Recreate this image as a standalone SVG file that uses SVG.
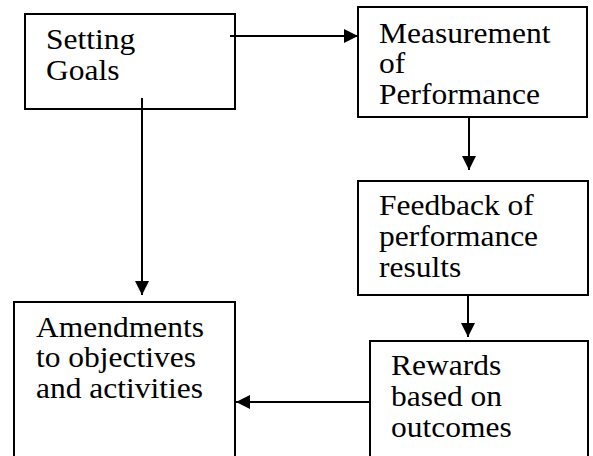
<svg xmlns="http://www.w3.org/2000/svg" width="593" height="456" viewBox="0 0 593 456">
<style>
.box{fill:#fff;stroke:#000;stroke-width:2}
.lbl{font-family:"Liberation Serif","Times New Roman",serif;font-size:30px;fill:#000}
.con{stroke:#000;stroke-width:2;fill:none}
</style>
<defs>
<marker id="ah" viewBox="0 0 14 14" refX="14" refY="7" markerWidth="14" markerHeight="14" markerUnits="userSpaceOnUse" orient="auto">
<path d="M0,0 L14,7 L0,14 Z" fill="#000"/>
</marker>
</defs>
<rect width="593" height="456" fill="#fff"/>
<g id="setting-goals">
<rect class="box" x="25" y="14" width="210" height="95"/>
<text class="lbl" transform="translate(46,48.5) scale(1.05 1)"><tspan x="0">Setting</tspan><tspan x="0" dy="31.5">Goals</tspan></text>
</g>
<g id="measurement">
<rect class="box" x="358" y="7" width="229" height="110"/>
<text class="lbl" transform="translate(379,43) scale(1.05 1)"><tspan x="0">Measurement</tspan><tspan x="0" dy="30.5">of</tspan><tspan x="0" dy="30.5">Performance</tspan></text>
</g>
<g id="feedback">
<rect class="box" x="358" y="181" width="230" height="114"/>
<text class="lbl" transform="translate(379,215) scale(1.05 1)"><tspan x="0">Feedback of</tspan><tspan x="0" dy="31">performance</tspan><tspan x="0" dy="31">results</tspan></text>
</g>
<g id="amendments">
<rect class="box" x="14" y="302" width="221" height="170"/>
<text class="lbl" transform="translate(36,336.5) scale(1.05 1)"><tspan x="0">Amendments</tspan><tspan x="0" dy="31">to objectives</tspan><tspan x="0" dy="31">and activities</tspan></text>
</g>
<g id="rewards">
<rect class="box" x="370" y="341" width="218" height="130"/>
<text class="lbl" transform="translate(391,375) scale(1.05 1)"><tspan x="0">Rewards</tspan><tspan x="0" dy="31">based on</tspan><tspan x="0" dy="31">outcomes</tspan></text>
</g>
<g id="connectors">
<line class="con" x1="230" y1="36" x2="358" y2="36" marker-end="url(#ah)"/>
<line class="con" x1="469" y1="117" x2="469" y2="170" marker-end="url(#ah)"/>
<line class="con" x1="142" y1="98" x2="142" y2="295" marker-end="url(#ah)"/>
<line class="con" x1="468" y1="295" x2="468" y2="337" marker-end="url(#ah)"/>
<line class="con" x1="370" y1="402" x2="236" y2="402" marker-end="url(#ah)"/>
</g>
</svg>
